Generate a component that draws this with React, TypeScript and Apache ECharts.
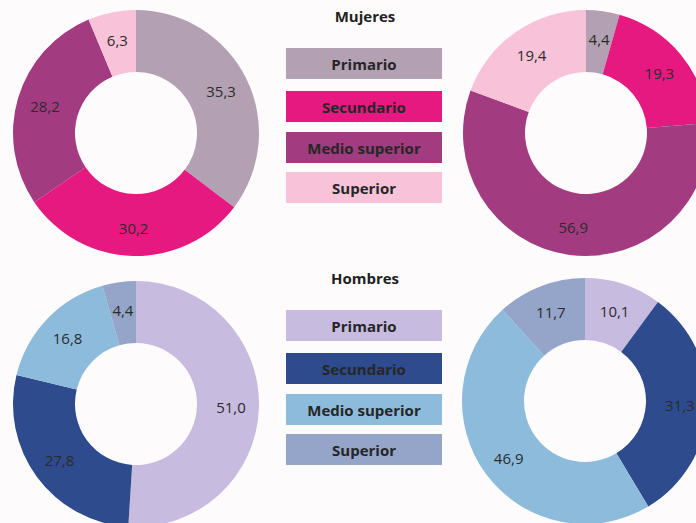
import React, { useEffect, useRef } from "react";
import * as echarts from "echarts";

const categories = ["Primario", "Secundario", "Medio superior", "Superior"];
const mujeresLeft = [35.3, 30.2, 28.2, 6.3];
const mujeresRight = [4.4, 19.3, 56.9, 19.4];
const hombresLeft = [51.0, 27.8, 16.8, 4.4];
const hombresRight = [10.1, 31.3, 46.9, 11.7];
const mujeresColors = ["#b3a1b3", "#e5197f", "#a23b80", "#f8c2d8"];
const hombresColors = ["#c8bbe0", "#2d4b8d", "#8cbbdc", "#95a5c9"];
const titles = ["Mujeres", "Hombres"];

const fmt = (v: number) => v.toFixed(1).replace(".", ",");

function pie(values: number[], colors: string[], center: [number, number]) {
  return {
    type: "pie",
    center,
    radius: [61, 123],
    startAngle: 90,
    clockwise: true,
    silent: true,
    label: {
      show: true,
      position: "inside",
      formatter: (p: any) => fmt(p.value),
      color: "#2b2b2b",
      fontSize: 15,
      fontFamily: "Open Sans",
    },
    labelLine: { show: false },
    itemStyle: { borderWidth: 0 },
    data: values.map((v, i) => ({
      name: categories[i],
      value: v,
      itemStyle: { color: colors[i] },
    })),
  };
}

function legend(top: number, title: string, colors: string[]) {
  const rowTops = [48, 91, 132, 172];
  const children: any[] = [
    {
      type: "text",
      x: 365,
      y: top + 16,
      style: {
        text: title,
        fill: "#1f1f1f",
        font: "bold 15px 'Open Sans'",
        align: "center",
        verticalAlign: "middle",
      },
    },
  ];
  categories.forEach((c, i) => {
    children.push({
      type: "rect",
      shape: { x: 286, y: top + rowTops[i], width: 156, height: 31 },
      style: { fill: colors[i] },
    });
    children.push({
      type: "text",
      x: 364,
      y: top + rowTops[i] + 16,
      style: {
        text: c,
        fill: "#262626",
        font: "bold 15px 'Open Sans'",
        align: "center",
        verticalAlign: "middle",
      },
    });
  });
  return { type: "group", children };
}

export default function App() {
  const ref = useRef<HTMLDivElement>(null);
  useEffect(() => {
    if (!ref.current) return;
    const chart = echarts.init(ref.current, undefined, { renderer: "svg" });
    chart.setOption({
      animation: false,
      backgroundColor: "#fdfbfc",
      series: [
        pie(mujeresLeft, mujeresColors, [136, 133]),
        pie(mujeresRight, mujeresColors, [586, 133]),
        pie(hombresLeft, hombresColors, [136, 404]),
        pie(hombresRight, hombresColors, [585, 401]),
      ],
      graphic: [
        legend(0, titles[0], mujeresColors),
        legend(262, titles[1], hombresColors),
      ],
    });
    return () => chart.dispose();
  }, []);
  return (
    <div
      ref={ref}
      style={{ position: "fixed", left: 0, top: 0, width: 696, height: 523 }}
    />
  );
}
